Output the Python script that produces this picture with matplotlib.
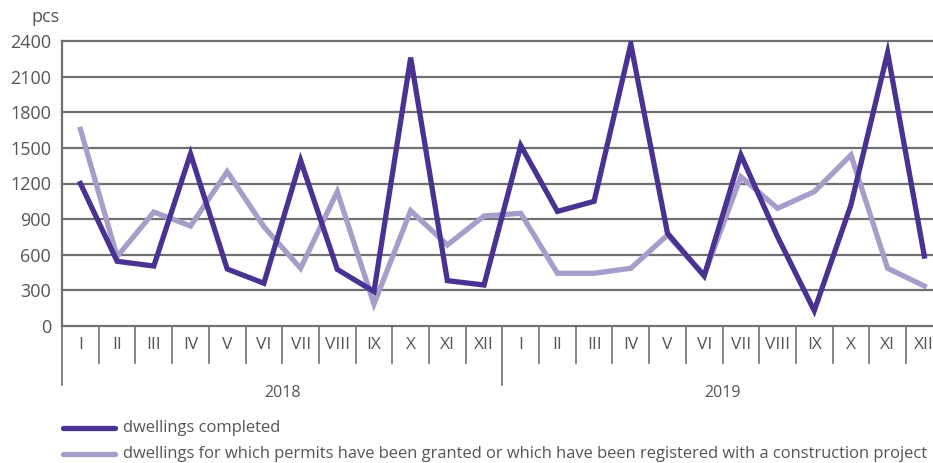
import matplotlib
matplotlib.use("Agg")
import matplotlib.pyplot as plt
from matplotlib.transforms import blended_transform_factory

plt.rcParams['font.family'] = ['Liberation Sans Narrow', 'Open Sans', 'DejaVu Sans']

months = ["I", "II", "III", "IV", "V", "VI", "VII", "VIII", "IX", "X", "XI", "XII"]
years = ["2018", "2019"]
completed = [1200, 545, 505, 1450, 480, 360, 1395, 477, 290, 2260, 382, 345,
             1520, 965, 1050, 2375, 781, 421, 1440, 752, 129, 1019, 2302, 589]
permits = [1656, 584, 960, 842, 1300, 836, 486, 1131, 185, 971, 682, 926,
           949, 444, 444, 486, 766, 429, 1257, 991, 1131, 1440, 486, 337]
yticks = [0, 300, 600, 900, 1200, 1500, 1800, 2100, 2400]
legend_labels = ["dwellings completed",
                 "dwellings for which permits have been granted or which have been registered with a construction project"]

dark = "#4a3292"
light = "#a89ccb"
grid = "#707070"
txt = "#555555"

W, H = 933, 463
fig = plt.figure(figsize=(W / 100, H / 100), dpi=100)
left, right, top, bottom = 62.1, 933, 41, 326
ax = fig.add_axes([left / W, 1 - bottom / H, (right - left) / W, (bottom - top) / H])

labels_all = [m for y in years for m in months]
x = list(range(len(labels_all)))
cat_w = 36.69
xmax = -0.5 + (right - left) / cat_w
ax.set_xlim(-0.5, xmax)
ax.set_ylim(0, 2400)

for v in yticks:
    ax.axhline(v, color=grid, lw=1.6, zorder=1, clip_on=False)

ax.plot(x, completed, color=dark, lw=3.8, solid_joinstyle='miter', zorder=3)
ax.plot(x, permits, color=light, lw=3.8, solid_joinstyle='miter', zorder=2)

for s in ["top", "right", "bottom"]:
    ax.spines[s].set_visible(False)
ax.spines["left"].set_color(grid)
ax.spines["left"].set_linewidth(1.6)
ax.set_xticks([])
ax.set_yticks(yticks)
ax.set_yticklabels([str(v) for v in yticks], fontsize=13, color=txt)
ax.tick_params(axis='y', length=0, pad=8)

tr = blended_transform_factory(ax.transData, ax.transAxes)
ph = bottom - top
sep_short = -(362.7 - bottom) / ph
sep_long = -(385 - bottom) / ph
for i in range(len(labels_all) + 1):
    b = i - 0.5
    y1 = sep_long if i % 12 == 0 else sep_short
    ax.plot([b, b], [0, y1], color=grid, lw=1.2, transform=tr, clip_on=False)
for i, lab in enumerate(labels_all):
    ax.text(i, -(345 - bottom) / ph, lab, transform=tr, ha='center', va='center',
            fontsize=12.5, color=txt, clip_on=False)
for j, yr in enumerate(years):
    ax.text(j * 12 + 5.5, -(393 - bottom) / ph, yr, transform=tr, ha='center', va='center',
            fontsize=11.5, color=txt, clip_on=False)

fig.text(60 / W, 1 - 17 / H, "pcs", ha='right', va='center', fontsize=13, color=txt)

renderer = fig.canvas.get_renderer()
texts = []
for k, (lab, col) in enumerate(zip(legend_labels, [dark, light])):
    yy = 1 - (427.7 + k * 26.3) / H
    fig.add_artist(plt.Line2D([63 / W, 115 / W], [yy, yy], color=col, lw=3.8,
                              solid_capstyle='round', transform=fig.transFigure))
    texts.append(fig.text(122.7 / W, yy, lab, ha='left', va='center', fontsize=12.5, color=txt))
widest = max(t.get_window_extent(renderer).width for t in texts)
avail = 929 - 122.7
if widest > avail:
    for t in texts:
        t.set_fontsize(12.5 * avail / widest)

fig.savefig("out.png", dpi=100)
